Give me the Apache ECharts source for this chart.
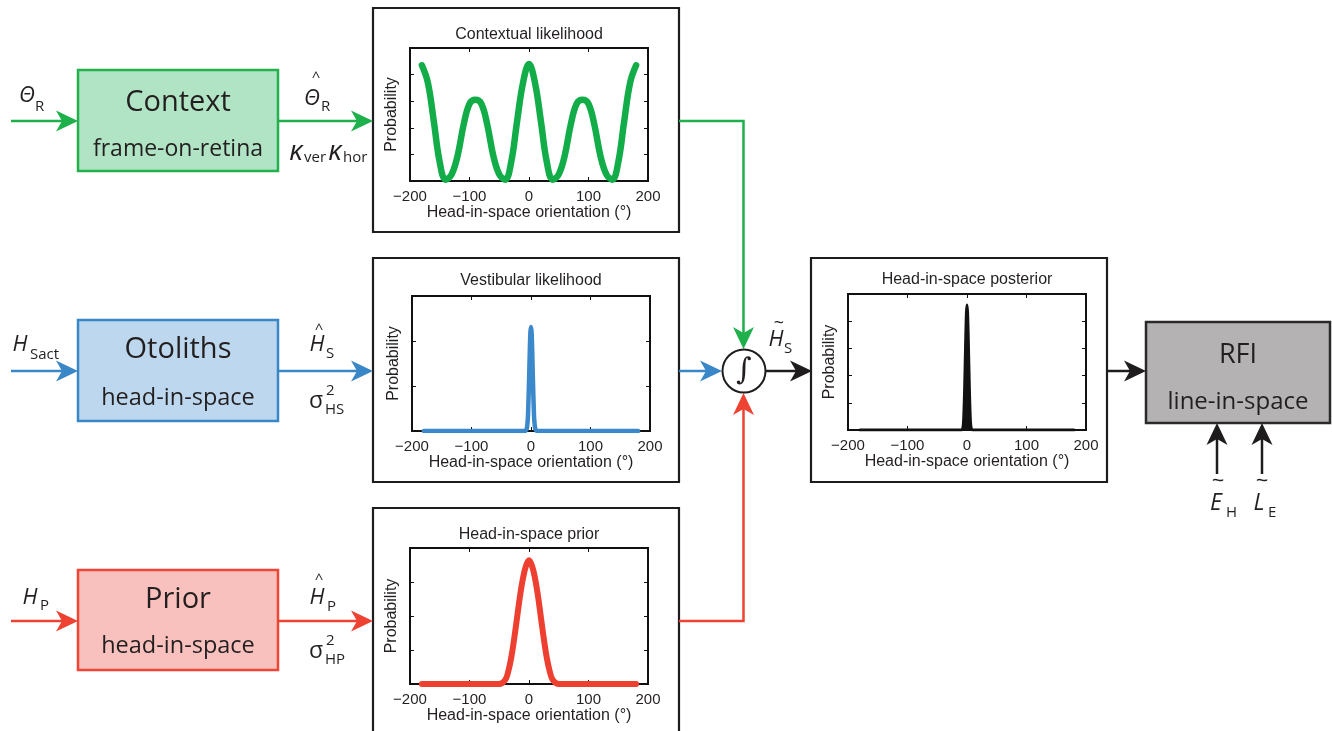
<!DOCTYPE html>
<html><head><meta charset="utf-8">
<script src="https://cdn.jsdelivr.net/npm/echarts@6.0.0/dist/echarts.min.js"></script>
<style>html,body{margin:0;padding:0;background:#fff}#c{width:1332px;height:731px}</style>
</head><body><div id="c"></div>
<script>
// ---------- data ----------
const ctxX = [-180,-170,-160,-150,-140,-130,-120,-110,-100,-90,-80,-70,-60,-50,-40,-30,-20,-10,0,10,20,30,40,50,60,70,80,90,100,110,120,130,140,150,160,170,180];
const ctxY = [0.87,0.74,0.45,0.14,0.01,0.05,0.19,0.42,0.58,0.61,0.58,0.42,0.19,0.05,0.01,0.14,0.45,0.74,0.88,0.74,0.45,0.14,0.01,0.05,0.19,0.42,0.58,0.61,0.58,0.42,0.19,0.05,0.01,0.14,0.45,0.74,0.87];
const vesX = [-180,-10,-7,-5,-3,-2,-1,0,1,2,3,5,7,10,180];
const vesY = [0,0,0.02,0.12,0.42,0.6,0.73,0.77,0.73,0.6,0.42,0.12,0.02,0,0];
const priX = [-180,-50,-40,-35,-30,-25,-20,-15,-10,-5,0,5,10,15,20,25,30,35,40,50,180];
const priY = [0,0,0.03,0.09,0.19,0.33,0.49,0.65,0.78,0.87,0.91,0.87,0.78,0.65,0.49,0.33,0.19,0.09,0.03,0,0];
const postX = [-180,-9,-6,-4,-2,-1,0,1,2,4,6,9,180];
const postY = [0,0,0.05,0.3,0.7,0.86,0.92,0.86,0.7,0.3,0.05,0,0];
const panelTitles = ['Contextual likelihood','Vestibular likelihood','Head-in-space prior','Head-in-space posterior'];
const xName = 'Head-in-space orientation (°)';
const yName = 'Probability';
const xTicks = [-200,-100,0,100,200];

// ---------- layout ----------
const GREEN='#1db04b', BLUE='#3a87c8', RED='#ee4232', BLACK='#1e1c1d', TXT='#231f20';
const panels = [
  {l:410,t:48,w:238,h:133, yInt:0.2, X:ctxX, Y:ctxY, color:'#12ad48', lw:6.5, smooth:0.4},
  {l:412,t:296,w:238,h:135, yInt:1/3, X:vesX, Y:vesY, color:'#3b89ca', lw:4.5, smooth:0.2},
  {l:410,t:548,w:238,h:136, yInt:0.25, X:priX, Y:priY, color:'#ee4030', lw:6, smooth:0.4},
  {l:848,t:294,w:238,h:136, yInt:0.2, X:postX, Y:postY, color:'#111', lw:3, smooth:0.2, area:true}
];
const CF = '"Liberation Sans", Arial, sans-serif';
const DF = '"Open Sans", "Noto Sans", sans-serif';

const grid=[], xAxis=[], yAxis=[], series=[];
panels.forEach((p,i)=>{
  grid.push({left:p.l, top:p.t, width:p.w, height:p.h, show:true, borderColor:'#111', borderWidth:2, backgroundColor:'#fff', containLabel:false});
  const xmin = xTicks[0], xmax = xTicks[xTicks.length-1], xint = xTicks[1]-xTicks[0];
  const tick = {show:true, inside:true, length:4, lineStyle:{color:'#111',width:1}};
  xAxis.push({type:'value', gridIndex:i, min:xmin, max:xmax, interval:xint, position:'bottom',
    axisLine:{show:false, onZero:false}, splitLine:{show:false}, axisTick:tick,
    axisLabel:{show:true, margin:8, fontFamily:CF, fontSize:15, color:TXT, formatter:v=>String(v).replace('-','\u2212')},
    name:xName, nameLocation:'middle', nameGap:24, nameTextStyle:{fontFamily:CF, fontSize:16, color:TXT}});
  xAxis.push({type:'value', gridIndex:i, min:xmin, max:xmax, interval:xint, position:'top',
    axisLine:{show:false, onZero:false}, splitLine:{show:false}, axisLabel:{show:false}, axisTick:tick});
  yAxis.push({type:'value', gridIndex:i, min:0, max:1, interval:p.yInt, position:'left',
    axisLine:{show:false, onZero:false}, splitLine:{show:false}, axisLabel:{show:false}, axisTick:tick,
    name:yName, nameLocation:'middle', nameRotate:90, nameGap:10, nameTextStyle:{fontFamily:CF, fontSize:16, color:TXT}});
  yAxis.push({type:'value', gridIndex:i, min:0, max:1, interval:p.yInt, position:'right',
    axisLine:{show:false, onZero:false}, splitLine:{show:false}, axisLabel:{show:false}, axisTick:tick});
  series.push({type:'line', xAxisIndex:2*i, yAxisIndex:2*i, data:p.X.map((x,k)=>[x,p.Y[k]]),
    showSymbol:false, symbol:'none', smooth:p.smooth, clip:true,
    lineStyle:{color:p.color, width:p.lw, cap:'round', join:'round'},
    areaStyle:p.area?{color:p.color, opacity:1}:undefined, z:3, silent:true});
});

// ---------- graphic helpers ----------
const G = [];
function txt(s,x,y,font,fill,align){ G.push({type:'text', x:x, y:y, z:10, silent:true, style:{text:s, font:font, fill:fill||TXT, align:align||'center', verticalAlign:'middle', textAlign:align||'center', textVerticalAlign:'middle'}}); }
function rect(x,y,w,h,fill,stroke,lw){ G.push({type:'rect', z:1, silent:true, shape:{x:x,y:y,width:w,height:h}, style:{fill:fill, stroke:stroke, lineWidth:lw}}); }
function pl(pts,color,lw){ G.push({type:'polyline', z:5, silent:true, shape:{points:pts}, style:{stroke:color, lineWidth:lw||2.5, fill:null}}); }
function head(tx,ty,dir,color){
  const L=22, W=21, N=6; let pts;
  if(dir==='r') pts=[[tx,ty],[tx-L,ty-W/2],[tx-L+N,ty],[tx-L,ty+W/2]];
  if(dir==='d') pts=[[tx,ty],[tx-W/2,ty-L],[tx,ty-L+N],[tx+W/2,ty-L]];
  if(dir==='u') pts=[[tx,ty],[tx-W/2,ty+L],[tx,ty+L-N],[tx+W/2,ty+L]];
  G.push({type:'polygon', z:6, silent:true, shape:{points:pts}, style:{fill:color, stroke:null}});
}

// panel frames
rect(373,8,306,224,'none',BLACK,2.2);
rect(373,258,306,224,'none',BLACK,2.2);
rect(373,508,306,226,'none',BLACK,2.2);
rect(811,258,296,224,'none',BLACK,2.2);
// panel titles
txt(panelTitles[0],529,35,'16px '+CF);
txt(panelTitles[1],531,281,'16px '+CF);
txt(panelTitles[2],529,535,'16px '+CF);
txt(panelTitles[3],967,280,'16px '+CF);

// boxes
rect(78,70,200,101,'#b0e4c5','#22b14c',2.5);
rect(78,320,200,101,'#bdd8ee',BLUE,2.5);
rect(78,570,200,100,'#f8c1bd','#ee4535',2.5);
rect(1146,322,184,101,'#b4b2b2','#2a2a2a',2.5);
txt('Context',178,103,'29px '+DF);
txt('frame-on-retina',178,149,'23px '+DF);
txt('Otoliths',178,350,'29px '+DF);
txt('head-in-space',178,398,'23.5px '+DF);
txt('Prior',178,600,'29px '+DF);
txt('head-in-space',178,646,'23.5px '+DF);
txt('RFI',1238,355,'27px '+DF);
txt('line-in-space',1238,402,'24px '+DF);

// arrows
pl([[11,121],[64,121]],GREEN); head(78,121,'r',GREEN);
pl([[278,121],[358,121]],GREEN); head(373,121,'r',GREEN);
pl([[11,371],[64,371]],BLUE); head(78,371,'r',BLUE);
pl([[278,371],[358,371]],BLUE); head(373,371,'r',BLUE);
pl([[11,621],[64,621]],RED); head(78,621,'r',RED);
pl([[278,621],[358,621]],RED); head(373,621,'r',RED);
pl([[679,121],[743.5,121],[743.5,334]],GREEN); head(743.5,349,'d',GREEN);
pl([[679,371],[707,371]],BLUE); head(722,371,'r',BLUE);
pl([[679,621],[743.5,621],[743.5,408]],RED); head(743.5,393,'u',RED);
pl([[766,371],[797,371]],BLACK); head(812,371,'r',BLACK);
pl([[1107,371],[1131,371]],BLACK); head(1146,371,'r',BLACK);
pl([[1217,474],[1217,438]],BLACK); head(1217,423,'u',BLACK);
pl([[1262,474],[1262,438]],BLACK); head(1262,423,'u',BLACK);
// integrator
G.push({type:'circle', z:7, silent:true, shape:{cx:744,cy:371,r:21.5}, style:{fill:'#fff', stroke:BLACK, lineWidth:2}});
txt('\u222B',744,371,'italic 30px "DejaVu Serif", serif');

// math labels
const MI = 'italic 22px '+DF, SB = '15px '+DF, ACC = '15px '+DF, TIL = '22px '+DF;
txt('\u0398',27,96,MI); txt('R',35,107,SB,null,'left');
txt('\u0398',312,99,MI); txt('R',321,107,SB,null,'left'); txt('^',316,78,ACC);
txt('\u03BA',296,152,'italic 28px '+DF); txt('ver',304,158,SB,null,'left');
txt('\u03BA',335,152,'italic 28px '+DF); txt('hor',343,158,SB,null,'left');
txt('H',20,345,MI); txt('Sact',30,355,SB,null,'left');
txt('H',317,345,MI); txt('S',326,354,SB,null,'left'); txt('^',319,330,ACC);
txt('\u03C3',316,401,'23px '+DF); txt('2',326,391,SB,null,'left'); txt('HS',325,410,SB,null,'left');
txt('H',30,598,MI); txt('P',40,606,SB,null,'left');
txt('H',317,598,MI); txt('P',327,607,SB,null,'left'); txt('^',319,580,ACC);
txt('\u03C3',316,651,'23px '+DF); txt('2',326,641,SB,null,'left'); txt('HP',325,660,SB,null,'left');
txt('H',776,340,MI); txt('S',784,349,SB,null,'left'); txt('~',779,324,'18px '+DF);
txt('E',1216,503,'italic 23px '+DF); txt('H',1226,513,SB,null,'left'); txt('~',1218,482,TIL);
txt('L',1259,503,'italic 23px '+DF); txt('E',1268,513,SB,null,'left'); txt('~',1262,482,TIL);

const chart = echarts.init(document.getElementById('c'), null, {renderer:'canvas'});
chart.setOption({animation:false, backgroundColor:'#fff', grid, xAxis, yAxis, series, graphic:{elements:G}});
</script></body></html>
